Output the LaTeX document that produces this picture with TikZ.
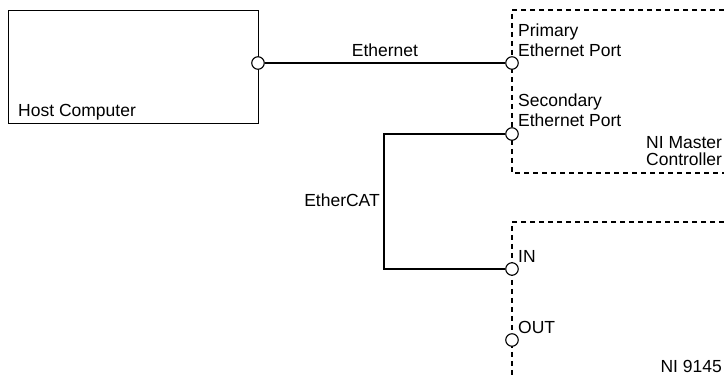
\documentclass[tikz,border=0pt]{standalone}
\usepackage{fontspec}
\setmainfont{Liberation Sans}
\begin{document}
\begin{tikzpicture}[x=1pt,y=-1pt,
  wire/.style={line width=1.2pt},
  dashline/.style={line width=1.1pt,dash pattern=on 5pt off 4pt},
  port/.style={circle,draw,fill=white,line width=1.1pt,minimum size=12.5pt,inner sep=0pt},
  lbl/.style={inner sep=0pt,font=\fontsize{17.5}{20.5}\selectfont},
  box/.style={draw,line width=1.2pt,inner sep=0pt}]
\useasboundingbox (0,0) rectangle (724,379);
% host computer box
\node[box,minimum width=250pt,minimum height=113pt,anchor=north west] (host) at (8,10) {};
\node[lbl,anchor=base west] (hostlbl) at (18,117) {Host Computer};
% dashed enclosures
\coordinate (mtr) at (724,10);
\coordinate (mtl) at (512,10);
\coordinate (mbl) at (512,173);
\coordinate (mbr) at (724,173);
\draw[dashline] (mtr) -- (mtl) -- (mbl) -- (mbr);
\coordinate (ntr) at (724,222);
\coordinate (ntl) at (512,222);
\coordinate (nbl) at (512,379);
\draw[dashline] (ntr) -- (ntl) -- (nbl);
% ports
\node[port] (hp) at (258,63) {};
\node[port] (pp) at (512,63) {};
\node[port] (sp) at (512,134) {};
\node[port] (inp) at (512,269) {};
\node[port] (outp) at (512,340) {};
% wires
\draw[wire] (hp) -- (pp);
\coordinate (bend1) at (384,134);
\coordinate (bend2) at (384,269);
\draw[wire] (sp) -- (bend1) -- (bend2) -- (inp);
% labels
\node[lbl,anchor=base] (eth) at (385,57) {Ethernet};
\node[lbl,anchor=base east] (ecat) at (380,207) {EtherCAT};
\node[lbl,anchor=base west] (prim1) at (518,37) {Primary};
\node[lbl,anchor=base west] (prim2) at (518,57) {Ethernet Port};
\node[lbl,anchor=base west] (sec1) at (518,107) {Secondary};
\node[lbl,anchor=base west] (sec2) at (518,127) {Ethernet Port};
\node[lbl,anchor=base west] (nim1) at (646,149) {NI Master};
\node[lbl,anchor=base west] (nim2) at (646,166) {Controller};
\node[lbl,anchor=base west] (inlbl) at (518,263) {IN};
\node[lbl,anchor=base west] (outlbl) at (518,334) {OUT};
\node[lbl,anchor=base east] (ni9145) at (722,373) {NI 9145};
\end{tikzpicture}
\end{document}
